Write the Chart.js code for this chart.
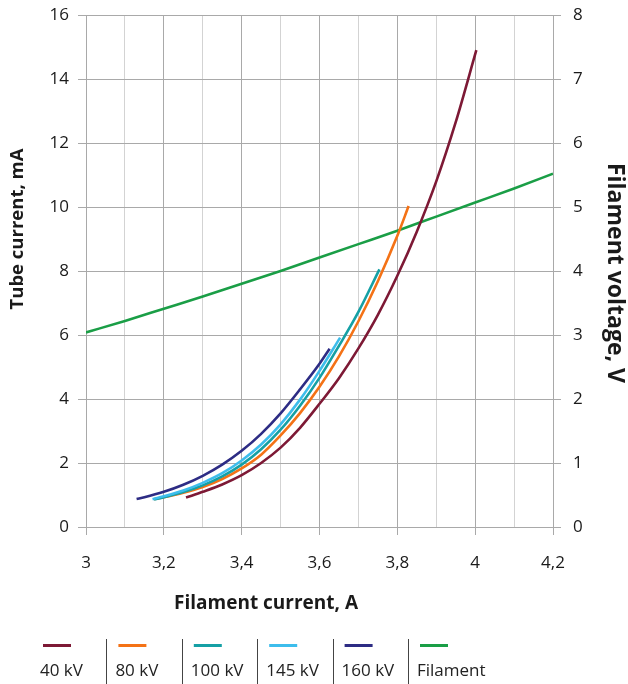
<!DOCTYPE html>
<html><head><meta charset="utf-8">
<script src="https://cdn.jsdelivr.net/npm/chart.js@4.4.1/dist/chart.umd.min.js"></script>
<style>
html,body{margin:0;padding:0;background:#fff;}
#wrap{position:relative;width:628px;height:684px;}
</style></head>
<body><div id="wrap"><canvas id="c" width="628" height="684"></canvas></div>
<script>
// ---- data ----
const seriesNames = ['40 kV', '80 kV', '100 kV', '145 kV', '160 kV', 'Filament'];
const seriesColors = ['#7d1935', '#f47216', '#15a0a5', '#3dbdec', '#2d2c84', '#1a9e46'];

const kv40X = [3.257, 3.3, 3.35, 3.4, 3.45, 3.5, 3.55, 3.6, 3.65, 3.7, 3.75, 3.8, 3.85, 3.9, 3.95, 4.003];
const kv40Y = [0.92, 1.1, 1.33, 1.62, 2.0, 2.48, 3.1, 3.85, 4.65, 5.58, 6.63, 7.85, 9.23, 10.8, 12.65, 14.9];

const kv80X = [3.175, 3.2, 3.25, 3.3, 3.35, 3.4, 3.45, 3.5, 3.55, 3.6, 3.65, 3.7, 3.75, 3.8, 3.829];
const kv80Y = [0.87, 0.93, 1.07, 1.25, 1.5, 1.83, 2.26, 2.86, 3.56, 4.38, 5.33, 6.43, 7.68, 9.1, 10.03];

const kv100X = [3.175, 3.2, 3.25, 3.3, 3.35, 3.4, 3.45, 3.5, 3.55, 3.6, 3.65, 3.7, 3.754];
const kv100Y = [0.86, 0.93, 1.09, 1.3, 1.58, 1.95, 2.43, 3.04, 3.79, 4.66, 5.66, 6.72, 8.05];

const kv145X = [3.171, 3.2, 3.25, 3.3, 3.35, 3.4, 3.45, 3.5, 3.55, 3.6, 3.653];
const kv145Y = [0.87, 0.96, 1.14, 1.38, 1.68, 2.08, 2.58, 3.21, 3.98, 4.88, 5.92];

const kv160X = [3.13, 3.15, 3.2, 3.25, 3.3, 3.35, 3.4, 3.45, 3.5, 3.55, 3.6, 3.626];
const kv160Y = [0.875, 0.93, 1.1, 1.32, 1.6, 1.95, 2.38, 2.91, 3.55, 4.3, 5.1, 5.57];

const filX = [3.0, 3.1, 3.2, 3.3, 3.4, 3.5, 3.6, 3.7, 3.8, 3.9, 4.0, 4.1, 4.2];
const filV = [3.04, 3.22, 3.41, 3.6, 3.8, 4.0, 4.21, 4.42, 4.63, 4.85, 5.07, 5.29, 5.52];

const xMin = 3, xMax = 4.2, xStep = 0.1;
const leftMax = 16, leftStep = 2;
const rightMax = 8, rightStep = 1;

const xTitle = 'Filament current, A';
const leftTitle = 'Tube current, mA';
const rightTitle = 'Filament voltage, V';

// ---- build ----
const FONT = "'Open Sans', sans-serif";
const TEXT = '#1a1a1a';
const GRID_MAJOR = '#a9a9a9';
const GRID_MINOR = '#d3d3d3';

function pts(xs, ys) { return xs.map((x, i) => ({ x: x, y: ys[i] })); }
const seriesData = [pts(kv40X, kv40Y), pts(kv80X, kv80Y), pts(kv100X, kv100Y), pts(kv145X, kv145Y), pts(kv160X, kv160Y), pts(filX, filV)];

const datasets = seriesData.map((d, i) => ({
  label: seriesNames[i],
  data: d,
  yAxisID: i === 5 ? 'y1' : 'y',
  borderColor: seriesColors[i],
  backgroundColor: seriesColors[i],
  borderWidth: 2.6,
  pointRadius: 0,
  pointHoverRadius: 0,
  fill: false,
  cubicInterpolationMode: 'monotone',
  order: i === 5 ? 10 : 5 - i
}));

function isMajor(v) { return Math.round(v * 10) % 2 === 0; }
function fmt(v) { return String(Number(v.toFixed(1))).replace('.', ','); }

const decor = {
  id: 'decor',
  afterDraw(chart) {
    const ctx = chart.ctx;
    ctx.save();
    ctx.fillStyle = TEXT;
    // x title
    ctx.font = 'bold 19px ' + FONT;
    ctx.textAlign = 'center';
    ctx.textBaseline = 'middle';
    ctx.fillText(xTitle, 266, 604);
    // left title
    ctx.save();
    ctx.translate(18, 229);
    ctx.rotate(-Math.PI / 2);
    ctx.font = 'bold 18.5px ' + FONT;
    ctx.fillText(leftTitle, 0, 0);
    ctx.restore();
    // right title
    ctx.save();
    ctx.translate(615, 273);
    ctx.rotate(Math.PI / 2);
    ctx.font = 'bold 23px ' + FONT;
    ctx.fillText(rightTitle, 0, 0);
    ctx.restore();
    // legend
    const colW = 75.4, x0 = 31;
    ctx.textAlign = 'left';
    ctx.textBaseline = 'alphabetic';
    ctx.font = '17px ' + FONT;
    seriesNames.forEach((name, i) => {
      const cx = x0 + i * colW;
      if (i > 0) {
        ctx.strokeStyle = '#444';
        ctx.lineWidth = 1;
        ctx.beginPath();
        ctx.moveTo(Math.round(cx) + 0.5, 639);
        ctx.lineTo(Math.round(cx) + 0.5, 684);
        ctx.stroke();
      }
      ctx.strokeStyle = seriesColors[i];
      ctx.lineWidth = 3;
      ctx.beginPath();
      ctx.moveTo(cx + 12, 645.5);
      ctx.lineTo(cx + 40, 645.5);
      ctx.stroke();
      ctx.fillStyle = '#222';
      ctx.fillText(name, cx + 9, 676);
    });
    ctx.restore();
  }
};

function fixVert(s, w) { s.width = w; s.paddingTop = 0; s.paddingBottom = 0; }

new Chart(document.getElementById('c'), {
  type: 'line',
  data: { datasets: datasets },
  options: {
    responsive: false,
    animation: false,
    devicePixelRatio: 1,
    layout: { padding: { top: 15, left: 0, right: 0, bottom: 0 } },
    plugins: { legend: { display: false }, tooltip: { enabled: false }, title: { display: false } },
    scales: {
      x: {
        type: 'linear', min: xMin, max: xMax,
        border: { display: false },
        grid: {
          color: c => (c.tick && isMajor(c.tick.value)) ? GRID_MAJOR : GRID_MINOR,
          tickColor: c => (c.tick && isMajor(c.tick.value)) ? GRID_MAJOR : 'rgba(0,0,0,0)',
          tickLength: 8, lineWidth: 1
        },
        ticks: {
          stepSize: xStep, autoSkip: false, maxRotation: 0, minRotation: 0,
          callback: v => isMajor(v) ? fmt(v) : '',
          font: { family: FONT, size: 17 }, color: TEXT, padding: 18
        },
        afterFit: s => { s.height = 684 - 527; s.paddingLeft = 0; s.paddingRight = 0; }
      },
      y: {
        type: 'linear', position: 'left', min: 0, max: leftMax,
        border: { display: true, color: GRID_MAJOR },
        grid: { color: GRID_MAJOR, tickColor: GRID_MAJOR, tickLength: 8 },
        ticks: { stepSize: leftStep, font: { family: FONT, size: 17 }, color: TEXT, padding: 9 },
        afterFit: s => fixVert(s, 86)
      },
      y1: {
        type: 'linear', position: 'right', min: 0, max: rightMax,
        border: { display: true, color: GRID_MAJOR },
        grid: { drawOnChartArea: false, color: GRID_MAJOR, tickColor: GRID_MAJOR, tickLength: 8 },
        ticks: { stepSize: rightStep, font: { family: FONT, size: 17 }, color: TEXT, padding: 12 },
        afterFit: s => fixVert(s, 628 - 553)
      }
    }
  },
  plugins: [decor]
});
</script>
</body></html>
